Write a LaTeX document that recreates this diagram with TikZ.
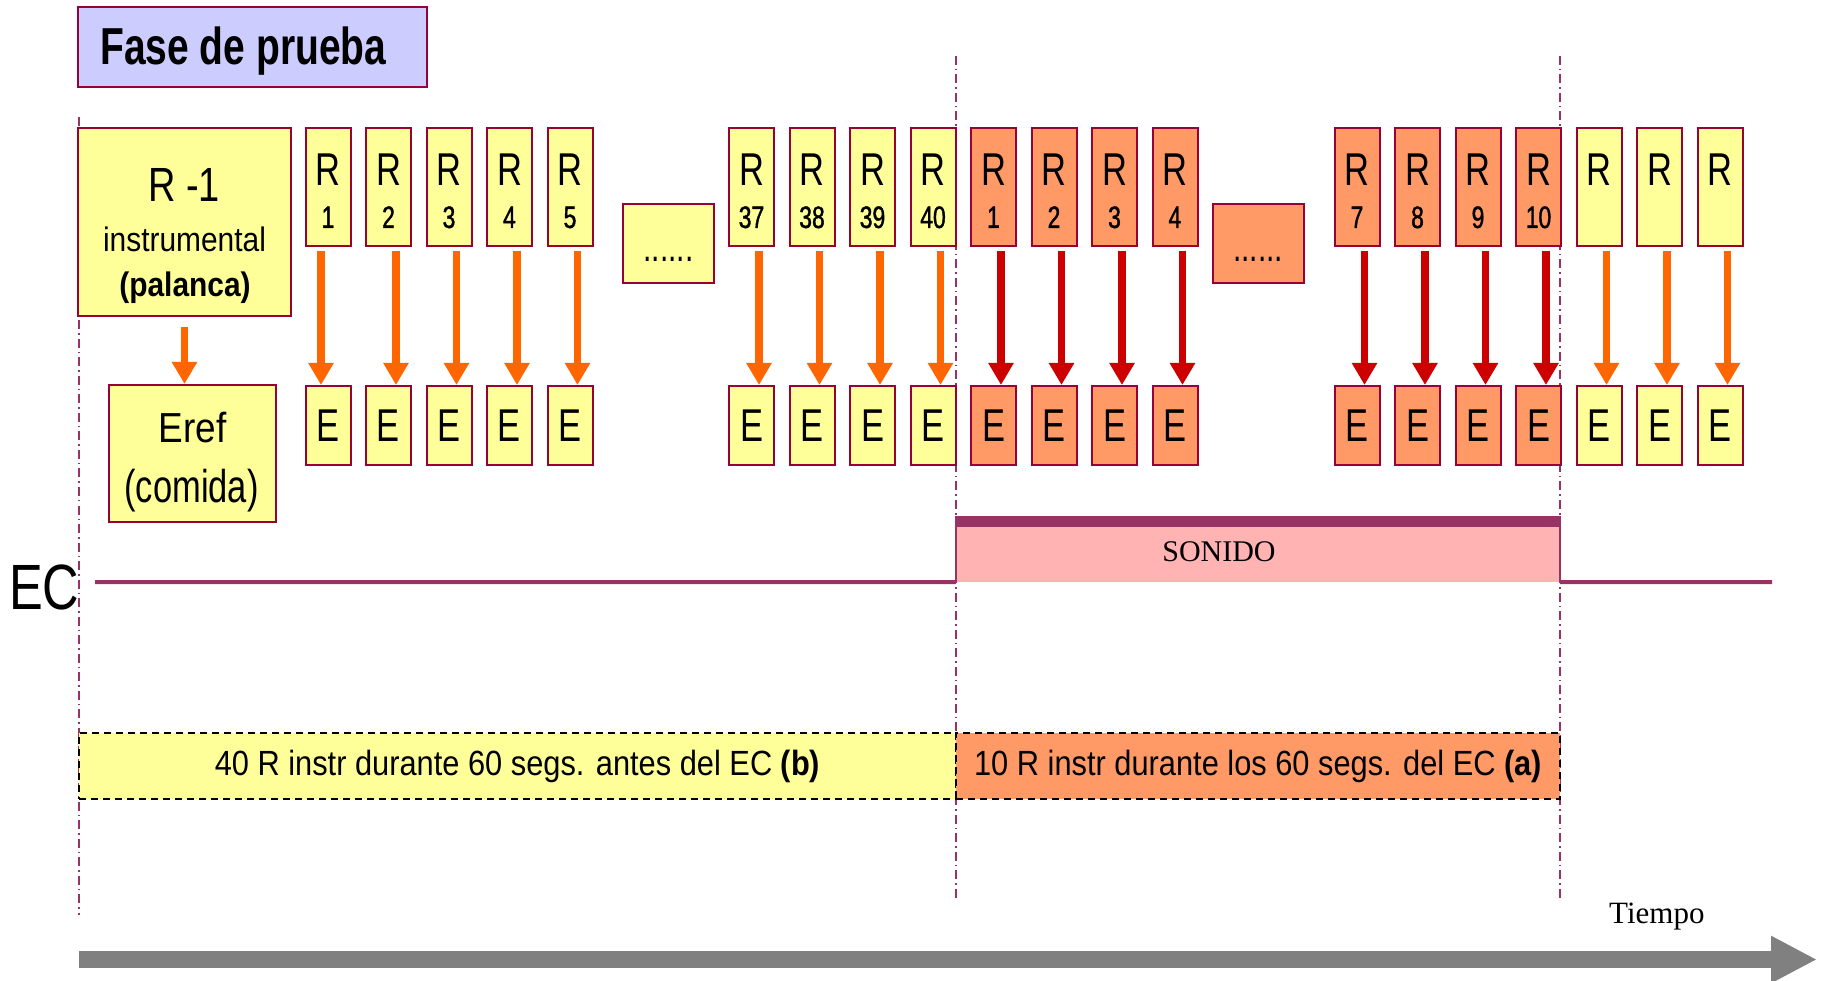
\documentclass[tikz,border=0pt]{standalone}
\usepackage{fontspec}
\setmainfont{Liberation Sans}
\newfontfamily\fA[FakeStretch=0.75]{Liberation Sans}
\newfontfamily\fN[FakeStretch=0.74,FakeBold=1.2]{Liberation Sans}
\newfontfamily\fC[FakeStretch=0.79]{Liberation Sans}
\newfontfamily\fB[FakeStretch=0.88]{Liberation Sans}
\newfontfamily\fS{Liberation Serif}
\usetikzlibrary{arrows.meta}
\definecolor{bord}{HTML}{990033}
\definecolor{yel}{HTML}{FFFF99}
\definecolor{ora}{HTML}{FF9966}
\definecolor{arrO}{HTML}{FF6600}
\definecolor{arrR}{HTML}{CC0000}
\definecolor{lav}{HTML}{CCCCFF}
\definecolor{pinkf}{HTML}{FFB3B3}
\definecolor{plum}{HTML}{993366}
\definecolor{grayA}{HTML}{808080}
\begin{document}
\begin{tikzpicture}[x=1pt,y=-1pt,
  box/.style={draw=bord, line width=2pt, inner sep=0pt},
  rbox/.style={box, minimum width=45pt, minimum height=117.5pt},
  ebox/.style={box, minimum width=45pt, minimum height=79pt, font=\fA\fontsize{46}{50}\selectfont},
  rtxt/.style={anchor=base, inner sep=0pt, font=\fA\fontsize{46}{50}\selectfont},
  ntxt/.style={anchor=base, inner sep=0pt, font=\fN\fontsize{31}{34}\selectfont},
  dotbox/.style={box, minimum width=91pt, minimum height=79pt},
  dottxt/.style={anchor=base, inner sep=0pt, font=\fA\fontsize{40}{44}\selectfont},
  link/.style={line width=7.5pt, -{Triangle[width=24pt,length=22pt]}, shorten <=4pt},
  guide/.style={draw=plum, line width=1.5pt, dash pattern=on 9pt off 4pt on 1.5pt off 4pt},
  sumbox/.style={draw=black, line width=2pt, dash pattern=on 7pt off 5pt, inner sep=0pt,
     minimum height=66pt, font=\fB\fontsize{35}{40}\selectfont},
  ecline/.style={draw=plum, line width=4pt}
]
\useasboundingbox (0,0) rectangle (1824,981);

% guide lines
\coordinate (g1a) at (79,117);  \coordinate (g1b) at (79,915);
\coordinate (g2a) at (956,56);  \coordinate (g2b) at (956,900);
\coordinate (g3a) at (1560,56); \coordinate (g3b) at (1560,900);
\draw[guide] (g1a) -- (g1b);
\draw[guide] (g2a) -- (g2b);
\draw[guide] (g3a) -- (g3b);

% title
\node[box, fill=lav, minimum width=349pt, minimum height=80pt] (title) at (252.5,47) {};
\node[anchor=base west, inner sep=0pt, font=\fA\bfseries\fontsize{52}{56}\selectfont] (titlet) at (100,65) {Fase de prueba};

% R-1 and Eref
\node[box, fill=yel, minimum width=213pt, minimum height=188pt] (r0) at (184.5,222) {};
\node[anchor=base, inner sep=0pt, font=\fC\fontsize{48}{52}\selectfont] (r0a) at (184,202) {R -1};
\node[anchor=base, inner sep=0pt, font=\fB\fontsize{34}{38}\selectfont] (r0b) at (184.5,252) {instrumental};
\node[anchor=base, inner sep=0pt, font=\fB\bfseries\fontsize{34}{38}\selectfont] (r0c) at (185,297) {(palanca)};
\node[box, fill=yel, minimum width=167pt, minimum height=137pt] (eref) at (192,453.5) {};
\node[anchor=base, inner sep=0pt, font=\fB\fontsize{42}{46}\selectfont] (erefa) at (192.5,443) {Eref};
\node[anchor=base, inner sep=0pt, font=\fA\fontsize{46}{50}\selectfont] (erefb) at (191.5,503) {(comida)};
\draw[link, arrO, shorten <=10pt] (r0.south) -- (r0.south |- eref.north);

% R / E pairs
\foreach \i/\x/\n/\f/\a/\s in {
  1/328/1/yel/arrO/-7, 2/388.5/2/yel/arrO/7.5, 3/449/3/yel/arrO/7.5, 4/509.5/4/yel/arrO/7.5, 5/570/5/yel/arrO/7.5,
  6/751.5/37/yel/arrO/7.5, 7/812/38/yel/arrO/7.5, 8/872.5/39/yel/arrO/7.5, 9/933/40/yel/arrO/7.5,
  10/993.5/1/ora/arrR/7.5, 11/1054/2/ora/arrR/7.5, 12/1114.5/3/ora/arrR/7.5, 13/1175/4/ora/arrR/7.5,
  14/1357/7/ora/arrR/7.5, 15/1417.5/8/ora/arrR/7.5, 16/1478/9/ora/arrR/7.5, 17/1538.5/10/ora/arrR/7.5,
  18/1599//yel/arrO/7.5, 19/1659.5//yel/arrO/7.5, 20/1720//yel/arrO/7.5}
{
  \node[rbox, fill=\f] (r\i) at (\x,187.25) {};
  \node[rtxt] (rt\i) at (\x,186) {R};
  \node[ntxt] (rn\i) at (\x,228) {\n};
  \node[ebox, fill=\f] (e\i) at (\x,425.5) {E};
  \draw[link, \a] ([xshift=\s pt]r\i.south) -- ([xshift=\s pt]e\i.north);
}

% dots boxes
\node[dotbox, fill=yel] (d1) at (668.5,243.5) {};
\node[dottxt] (d1t) at (668.5,262) {......};
\node[dotbox, fill=ora] (d2) at (1258,243.5) {};
\node[dottxt] (d2t) at (1258,262) {......};

% EC signal
\node[fill=pinkf, inner sep=0pt, minimum width=604pt, minimum height=61pt] (son) at (1258,551.5) {};
\node[inner sep=0pt, font=\fS\fontsize{30}{34}\selectfont] (sont) at (1219,551.5) {SONIDO};
\fill[plum] ([yshift=5pt]son.north west) rectangle ([yshift=-6pt]son.north east);
\draw[plum, line width=2pt] ([yshift=5pt]son.north west) -- (son.south west);
\draw[plum, line width=2pt] ([yshift=5pt]son.north east) -- (son.south east);
\coordinate (ecA) at (95,582);
\coordinate (ecB) at (1772,582);
\draw[ecline] (ecA) -- (son.south west);
\draw[ecline] (son.south east) -- (ecB);
\node[anchor=base west, inner sep=0pt, font=\fC\fontsize{64}{70}\selectfont] (ec) at (9,609) {EC};

% summary boxes
\node[sumbox, fill=yel, minimum width=877pt] (pb) at (517.5,766) {40 R instr durante 60 segs. antes del EC \textbf{(b)}};
\node[sumbox, fill=ora, minimum width=604pt] (pa) at (1258,766) {10 R instr durante los 60 segs. del EC \textbf{(a)}};

% time arrow
\coordinate (tA) at (79,959.5);
\coordinate (tB) at (1817,959.5);
\draw[grayA, line width=17pt, -{Triangle[width=44pt,length=46pt]}] (tA) -- (tB);
\node[anchor=base west, inner sep=0pt, font=\fS\fontsize{31}{35}\selectfont] (tiempo) at (1609,923) {Tiempo};
\end{tikzpicture}
\end{document}
